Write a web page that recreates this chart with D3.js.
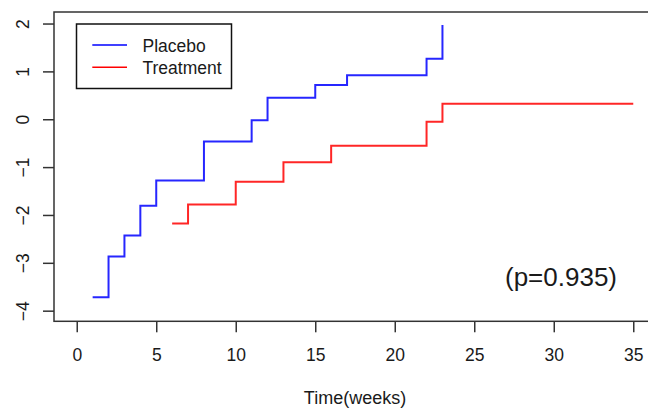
<!DOCTYPE html>
<html>
<head>
<meta charset="utf-8">
<script src="https://cdn.jsdelivr.net/npm/d3@7"></script>
<style>
  html, body { margin: 0; padding: 0; background: #fff; }
  svg { display: block; font-family: "Liberation Sans", Arial, Helvetica, sans-serif; }
</style>
</head>
<body>
<svg id="chart" width="648" height="408"></svg>
<script>
// Step-function estimates by week for each arm
const placeboTimes  = [1, 2, 3, 4, 5, 8, 11, 12, 15, 17, 22, 23];
const placeboValues = [-3.72, -2.87, -2.43, -1.81, -1.28, -0.465, -0.02, 0.45, 0.716, 0.92, 1.265, 1.97];

const treatmentTimes  = [6, 7, 10, 13, 16, 22, 23, 35];
const treatmentValues = [-2.18, -1.78, -1.305, -0.90, -0.553, -0.05, 0.325, 0.325];

const xTicks = [0, 5, 10, 15, 20, 25, 30, 35];
const yTicks = [-4, -3, -2, -1, 0, 1, 2];

const seriesNames  = ["Placebo", "Treatment"];
const seriesColors = ["#0000ff", "#ff0000"];
const pLabel = "(p=0.935)";
const xTitle = "Time(weeks)";

const svg = d3.select("#chart");

// plot region (right edge runs past the canvas)
const plotLeft = 54, plotRight = 656, plotTop = 12, plotBottom = 321.3;

const x = d3.scaleLinear().domain([-1.43, 36.43]).range([plotLeft, plotRight]);
const y = d3.scaleLinear().domain([-4.222, 2.241]).range([plotBottom, plotTop]);

const axisColor = "#333";
const textColor = "#1a1a1a";

// frame
svg.append("rect")
  .attr("x", plotLeft).attr("y", plotTop)
  .attr("width", plotRight - plotLeft).attr("height", plotBottom - plotTop)
  .attr("fill", "none").attr("stroke", axisColor).attr("stroke-width", 1.5);

// x axis
const xAxis = svg.append("g")
  .attr("transform", `translate(0,${plotBottom})`)
  .call(d3.axisBottom(x).tickValues(xTicks).tickSize(11).tickPadding(16).tickSizeOuter(0));
xAxis.select(".domain").remove();
xAxis.selectAll("line").attr("stroke", axisColor).attr("stroke-width", 1.5);
xAxis.selectAll("text")
  .attr("fill", textColor).attr("font-size", 17.5)
  .attr("font-family", "Liberation Sans, Arial, sans-serif");

// y axis with rotated labels
const yAxis = svg.append("g")
  .attr("transform", `translate(${plotLeft},0)`)
  .call(d3.axisLeft(y).tickValues(yTicks).tickSize(11).tickFormat(d => d < 0 ? "\u2212" + Math.abs(d) : d).tickSizeOuter(0));
yAxis.select(".domain").remove();
yAxis.selectAll("line").attr("stroke", axisColor).attr("stroke-width", 1.5);
yAxis.selectAll("text")
  .attr("fill", textColor).attr("font-size", 17.5)
  .attr("font-family", "Liberation Sans, Arial, sans-serif")
  .attr("x", null).attr("dy", null)
  .attr("text-anchor", "middle")
  .attr("transform", `translate(${28.5 - plotLeft},0) rotate(-90)`);

// step curves
const line = d3.line()
  .x(d => x(d[0]))
  .y(d => y(d[1]))
  .curve(d3.curveStepAfter);

const series = [
  d3.zip(placeboTimes, placeboValues),
  d3.zip(treatmentTimes, treatmentValues)
];

series.forEach((pts, i) => {
  svg.append("path")
    .datum(pts)
    .attr("d", line)
    .attr("fill", "none")
    .attr("stroke", seriesColors[i])
    .attr("stroke-width", 2)
    .attr("stroke-opacity", 0.85);
});

// legend
const lg = svg.append("g");
lg.append("rect")
  .attr("x", 76.5).attr("y", 24)
  .attr("width", 155).attr("height", 64.5)
  .attr("fill", "#fff").attr("stroke", "#111").attr("stroke-width", 1.5);
seriesNames.forEach((name, i) => {
  const ly = 45 + i * 22.3;
  lg.append("line")
    .attr("x1", 92.3).attr("x2", 127)
    .attr("y1", ly).attr("y2", ly)
    .attr("stroke", seriesColors[i]).attr("stroke-width", 1.5);
  lg.append("text")
    .attr("x", 142.5).attr("y", ly + 6.5)
    .attr("font-size", 17.5).attr("fill", textColor)
    .text(name);
});

// p-value annotation
svg.append("text")
  .attr("x", 505).attr("y", 285.5)
  .attr("font-size", 26).attr("fill", textColor)
  .text(pLabel);

// x axis title
svg.append("text")
  .attr("x", 355).attr("y", 403.5)
  .attr("text-anchor", "middle")
  .attr("font-size", 18).attr("fill", textColor)
  .text(xTitle);
</script>
</body>
</html>
